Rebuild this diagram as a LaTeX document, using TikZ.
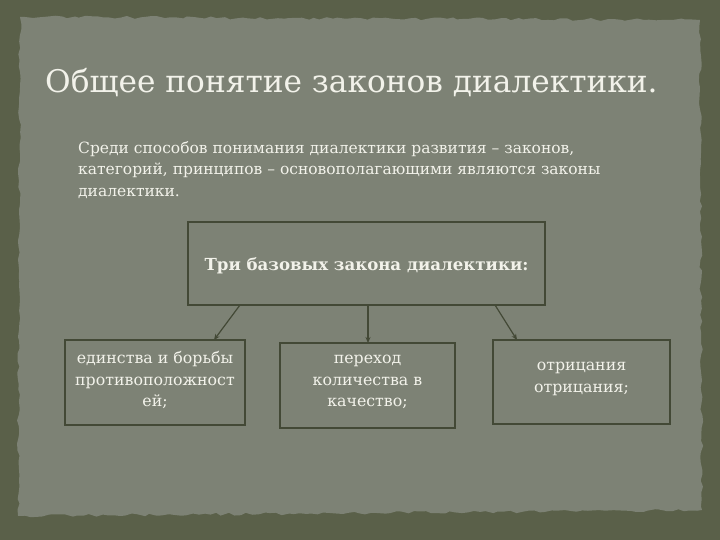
\documentclass[tikz,border=0pt]{standalone}
\usepackage{fontspec}
\setmainfont{DejaVu Serif}
\usetikzlibrary{arrows.meta,decorations.pathmorphing}
\definecolor{bgdark}{HTML}{5A6049}
\definecolor{panel}{HTML}{7D8275}
\definecolor{boxline}{HTML}{434936}
\definecolor{txt}{HTML}{F2F2EA}
\tikzset{
  lawbox/.style={draw=boxline, line width=2.5pt, fill=panel},
  boxtext/.style={text=txt, align=center, font=\fontsize{15.8}{21.5}\selectfont},
  link/.style={draw=boxline, line width=1.2pt, -{Stealth[length=6pt,width=5pt]}}
}
\begin{document}
\begin{tikzpicture}[x=1pt,y=-1pt]
\useasboundingbox (0,0) rectangle (720,540);
\fill[bgdark] (0,0) rectangle (720,540);
\fill[panel, decorate, decoration={random steps,segment length=6pt,amplitude=1.5pt}]
  (20,17) -- (700,20) -- (702,510) -- (18,516) -- cycle;
% title
\node[anchor=base west, text=txt, font=\fontsize{31.2}{40}\selectfont, inner sep=0pt] (title) at (45,93) {Общее понятие законов диалектики.};
% intro text
\node[anchor=north west, text=txt, align=left, inner sep=0pt, font=\fontsize{15.5}{21.5}\selectfont] (intro) at (78,141)
  {Среди способов понимания диалектики развития – законов,\\
   категорий, принципов – основополагающими являются законы\\
   диалектики.};
% top box
\draw[lawbox] (188,222) rectangle (545,305);
\node[text=txt, font=\bfseries\fontsize{16.6}{20}\selectfont] (top) at (366.5,266) {Три базовых закона диалектики:};
\coordinate (topL) at (240,305);
\coordinate (topM) at (368,305);
\coordinate (topR) at (495,305);
% bottom boxes
\draw[lawbox] (65,340) rectangle (245,425);
\node[boxtext] (b1) at (155,380) {единства и борьбы\\противоположност\\ей;};
\draw[lawbox] (280,343) rectangle (455,428);
\node[boxtext] (b2) at (367.5,382) {переход\\количества в\\качество;};
\draw[lawbox] (493,340) rectangle (670,424);
\node[boxtext] (b3) at (581.5,379) {отрицания\\отрицания;};
\coordinate (b1t) at (214,340);
\coordinate (b2t) at (368,343);
\coordinate (b3t) at (517,340);
\draw[link] (topL) -- (b1t);
\draw[link] (topM) -- (b2t);
\draw[link] (topR) -- (b3t);
\end{tikzpicture}
\end{document}
